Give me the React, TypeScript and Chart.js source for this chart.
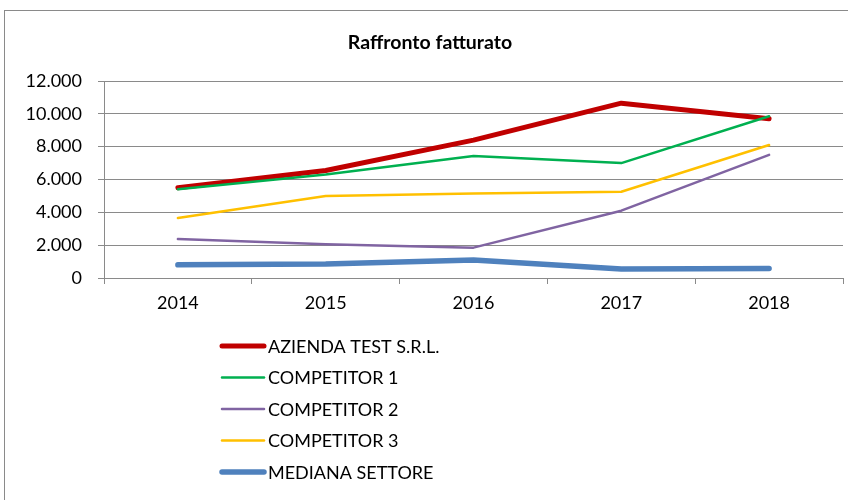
import React, { useEffect, useRef } from "react";
import { Chart, registerables } from "chart.js";

Chart.register(...registerables);

const categories = ["2014", "2015", "2016", "2017", "2018"];
const seriesNames = ["AZIENDA TEST S.R.L.", "COMPETITOR 1", "COMPETITOR 2", "COMPETITOR 3", "MEDIANA SETTORE"];
const aziendaTest = [5500, 6550, 8400, 10650, 9700];
const competitor1 = [5400, 6300, 7430, 7000, 9850];
const competitor2 = [2380, 2050, 1850, 4100, 7500];
const competitor3 = [3650, 5000, 5150, 5250, 8100];
const medianaSettore = [800, 850, 1100, 550, 580];
const seriesColors = ["#C00000", "#00B050", "#8064A2", "#FFC000", "#4F81BD"];
const seriesWidths = [5, 2.5, 2.5, 2.5, 5.5];
const chartTitle = "Raffronto fatturato";

const FONT = "Lato, 'Open Sans', sans-serif";

const fmt = (v: number) => String(v).replace(/\B(?=(\d{3})+(?!\d))/g, ".");

const framePlugin = {
  id: "frameAndLegend",
  beforeDraw(chart: any) {
    const ctx = chart.ctx;
    ctx.save();
    ctx.fillStyle = "#ffffff";
    ctx.fillRect(0, 0, chart.width, chart.height);
    ctx.strokeStyle = "#8a8a8a";
    ctx.lineWidth = 1;
    ctx.strokeRect(4.5, 10.5, 900, 600);
    ctx.fillStyle = "#000000";
    ctx.font = `bold 19.5px ${FONT}`;
    ctx.textAlign = "center";
    ctx.textBaseline = "middle";
    ctx.fillText(chartTitle, 430, 43);
    ctx.restore();
  },
  afterDraw(chart: any) {
    const ctx = chart.ctx;
    ctx.save();
    const x0 = 222;
    const x1 = 264;
    const y0 = 346;
    const step = 31.5;
    chart.data.datasets.forEach((ds: any, i: number) => {
      const y = y0 + i * step;
      ctx.strokeStyle = ds.borderColor;
      ctx.lineWidth = ds.borderWidth;
      ctx.lineCap = "round";
      ctx.beginPath();
      ctx.moveTo(x0, y);
      ctx.lineTo(x1, y);
      ctx.stroke();
      ctx.fillStyle = "#000000";
      ctx.font = `18px ${FONT}`;
      ctx.textAlign = "left";
      ctx.textBaseline = "middle";
      ctx.fillText(ds.label, 268, y + 1);
    });
    ctx.restore();
  },
};

export default function App() {
  const canvasRef = useRef<HTMLCanvasElement | null>(null);

  useEffect(() => {
    if (!canvasRef.current) return;
    const values = [aziendaTest, competitor1, competitor2, competitor3, medianaSettore];
    const chart = new Chart(canvasRef.current, {
      type: "line",
      data: {
        labels: categories,
        datasets: values.map((d, i) => ({
          label: seriesNames[i],
          data: d,
          borderColor: seriesColors[i],
          backgroundColor: seriesColors[i],
          borderWidth: seriesWidths[i],
          pointRadius: 0,
          tension: 0,
          borderJoinStyle: "round" as const,
          borderCapStyle: "round" as const,
          order: 5 - i,
        })),
      },
      options: {
        responsive: false,
        animation: false,
        layout: { padding: { top: 81, right: 5, bottom: 182, left: 0 } },
        plugins: {
          legend: { display: false },
          title: { display: false },
          tooltip: { enabled: false },
        },
        scales: {
          x: {
            offset: true,
            grid: {
              offset: true,
              drawOnChartArea: false,
              drawTicks: true,
              tickLength: 6,
              color: "#8a8a8a",
            },
            border: { color: "#8a8a8a" },
            ticks: {
              color: "#000000",
              font: { family: FONT, size: 18 },
              padding: 8,
            },
            afterFit(scale: any) {
              scale.height = 40;
            },
          },
          y: {
            min: 0,
            max: 12000,
            ticks: {
              stepSize: 2000,
              color: "#000000",
              font: { family: FONT, size: 18 },
              padding: 16,
              callback: (v: any) => fmt(Number(v)),
            },
            grid: {
              color: "#8a8a8a",
              tickLength: 6,
              drawTicks: true,
            },
            border: { color: "#8a8a8a" },
            afterFit(scale: any) {
              scale.width = 104;
            },
          },
        },
      },
      plugins: [framePlugin],
    });
    return () => chart.destroy();
  }, []);

  return (
    <div style={{ position: "fixed", left: 0, top: 0, width: 848, height: 500, background: "#fff" }}>
      <canvas ref={canvasRef} width={848} height={500} style={{ display: "block" }} />
    </div>
  );
}
